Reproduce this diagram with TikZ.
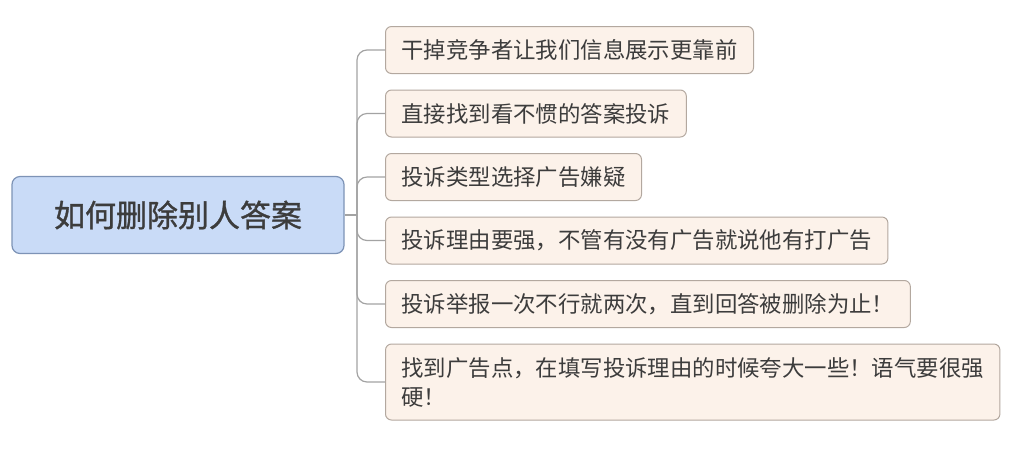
\documentclass[tikz,border=0pt]{standalone}
\usepackage{fontspec}
\newfontfamily\cjk{Noto Sans CJK SC}
\newfontfamily\cjkroot[FakeBold=1]{Noto Sans CJK SC}
\usepackage{tikz}
\usetikzlibrary{positioning}
\definecolor{rootfill}{HTML}{C9DBF7}
\definecolor{rootline}{HTML}{7D93B6}
\definecolor{leaffill}{HTML}{FCF2EA}
\definecolor{leafline}{HTML}{B3A89F}
\definecolor{linkgray}{HTML}{A3A3A3}
\definecolor{textgray}{HTML}{3C3C3C}

\begin{document}
\begin{tikzpicture}[x=0.5pt, y=0.5pt, node distance=7.75pt,
    root/.style = {draw=rootline, fill=rootfill, rounded corners=4pt, line width=0.6pt, minimum width=166pt, minimum height=38.5pt, text=textgray, font=\cjkroot\fontsize{15.5}{18}\selectfont},
    leaf/.style = {draw=leafline, fill=leaffill, rounded corners=3pt, line width=0.5pt, minimum height=23.5pt, inner xsep=8pt, inner ysep=2pt, align=left, text=textgray, font=\cjk\fontsize{11.2}{14.5}\selectfont},
    link/.style = {draw=linkgray, line width=0.6pt, rounded corners=5pt}]
    \useasboundingbox (0,0) rectangle (1015,-462);

    \node[root] (0) at (178,-215) {如何删除别人答案};

    \node[leaf, anchor=north west] (1) at (385,-26) {干掉竞争者让我们信息展示更靠前};
    \node[leaf] (2) [below right=7.75pt and 0pt of 1.south west] {直接找到看不惯的答案投诉};
    \node[leaf] (3) [below right=7.75pt and 0pt of 2.south west] {投诉类型选择广告嫌疑};
    \node[leaf] (4) [below right=7.75pt and 0pt of 3.south west] {投诉理由要强，不管有没有广告就说他有打广告};
    \node[leaf] (5) [below right=7.75pt and 0pt of 4.south west] {投诉举报一次不行就两次，直到回答被删除为止！};
    \node[leaf, minimum height=38pt] (6) [below right=7.75pt and 0pt of 5.south west] {找到广告点，在填写投诉理由的时候夸大一些！语气要很强\\硬！};

    \coordinate (fork) at (357,-215);
    \draw[link] (0.east) -- (fork);
    \foreach \n in {1,...,6}
        \draw[link] (fork) |- (\n.west);
\end{tikzpicture}
\end{document}
